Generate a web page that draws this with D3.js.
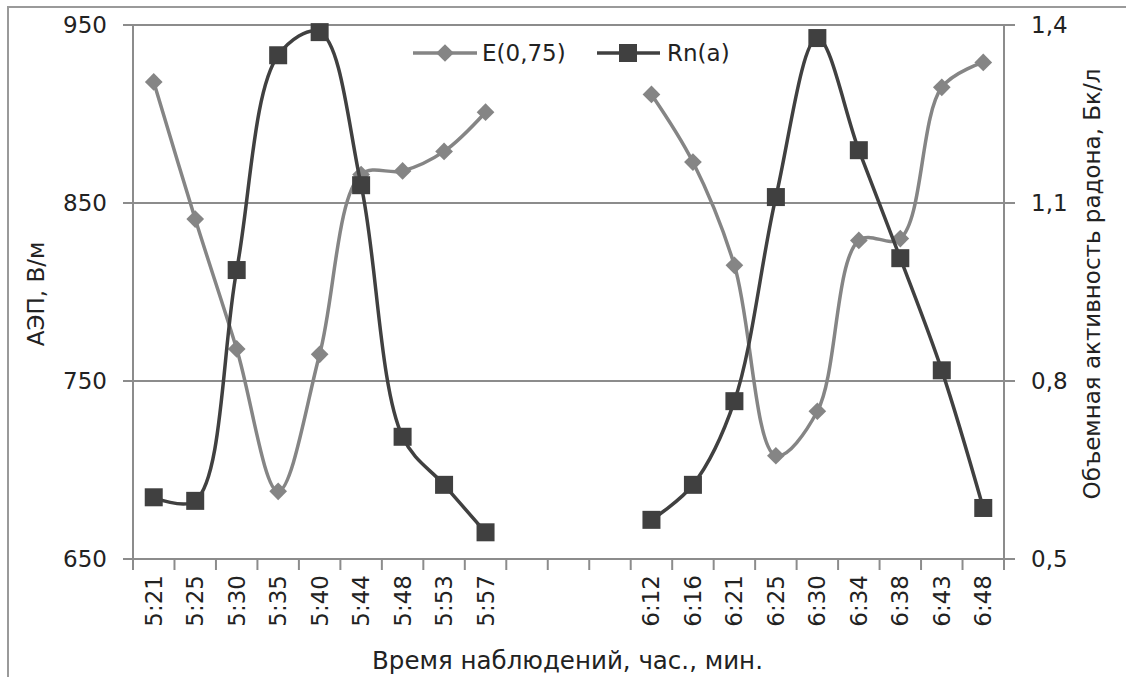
<!DOCTYPE html>
<html>
<head>
<meta charset="utf-8">
<script src="https://cdn.jsdelivr.net/npm/d3@7"></script>
<style>
  body { margin: 0; background: #fff; }
  text { font-family: "DejaVu Sans", sans-serif; fill: #222; }
</style>
</head>
<body>
<svg id="chart" width="1126" height="677"></svg>
<script>
// time labels (three empty slots make the gap between the two sessions)
const times = ["5:21","5:25","5:30","5:35","5:40","5:44","5:48","5:53","5:57","","","",
               "6:12","6:16","6:21","6:25","6:30","6:34","6:38","6:43","6:48"];
// E(0,75), В/м  (left axis)
const eField = [918, 841, 768, 688, 765, 866, 868, 879, 901, null, null, null,
                911, 873, 815, 708, 733, 829, 830, 915, 929];
// Rn(a), Бк/л  (right axis)
const radon = [0.604, 0.598, 0.987, 1.349, 1.388, 1.130, 0.706, 0.625, 0.545, null, null, null,
               0.566, 0.625, 0.766, 1.110, 1.378, 1.189, 1.007, 0.818, 0.586];
const leftTicks = [650, 750, 850, 950];
const rightTicks = [0.5, 0.8, 1.1, 1.4];

(function() {
  const svg = d3.select("#chart");
  const left = 133, right = 1004, top = 25, bottom = 559;
  const fs = 23;
  const axisCol = "#8c8c8c";
  const eCol = "#858585", rnCol = "#404040";

  // outer frame (only left and top edges visible)
  svg.append("path")
    .attr("d", "M8,677V7H1126")
    .attr("fill", "none")
    .attr("stroke", "#9a9a9a")
    .attr("stroke-width", 2);

  const x = d3.scaleBand().domain(d3.range(times.length)).range([left, right]).padding(0);
  const yL = d3.scaleLinear().domain([650, 950]).range([bottom, top]);
  const yR = d3.scaleLinear().domain([0.5, 1.4]).range([bottom, top]);

  // gridlines (with ticks on both sides)
  svg.append("g").selectAll("line")
    .data(leftTicks)
    .join("line")
    .attr("x1", left - 10).attr("x2", right + 11)
    .attr("y1", d => yL(d)).attr("y2", d => yL(d))
    .attr("stroke", axisCol).attr("stroke-width", 2);

  // vertical axis lines
  [left, right].forEach(xx => {
    svg.append("line")
      .attr("x1", xx).attr("x2", xx).attr("y1", top).attr("y2", bottom)
      .attr("stroke", axisCol).attr("stroke-width", 2);
  });

  // bottom category ticks
  svg.append("g").selectAll("line")
    .data(d3.range(times.length + 1))
    .join("line")
    .attr("x1", i => left + i * x.bandwidth())
    .attr("x2", i => left + i * x.bandwidth())
    .attr("y1", bottom).attr("y2", bottom + 11)
    .attr("stroke", axisCol).attr("stroke-width", 2);

  // tick labels
  svg.append("g").selectAll("text")
    .data(leftTicks)
    .join("text")
    .attr("x", left - 26).attr("y", d => yL(d))
    .attr("dy", "0.36em")
    .attr("text-anchor", "end")
    .attr("font-size", fs)
    .text(d => d);

  svg.append("g").selectAll("text")
    .data(rightTicks)
    .join("text")
    .attr("x", right + 27).attr("y", d => yR(d))
    .attr("dy", "0.36em")
    .attr("font-size", fs)
    .text(d => d3.format(".1f")(d).replace(".", ","));

  svg.append("g").selectAll("text")
    .data(d3.range(times.length))
    .join("text")
    .attr("transform", i => `translate(${x(i) + x.bandwidth() / 2 + 8},${bottom + 16}) rotate(-90)`)
    .attr("text-anchor", "end")
    .attr("font-size", fs)
    .text(i => times[i]);

  // axis titles
  svg.append("text")
    .attr("x", (left + right) / 2 - 1).attr("y", 669)
    .attr("text-anchor", "middle")
    .attr("font-size", 24.5)
    .text("Время наблюдений, час., мин.");

  svg.append("text")
    .attr("transform", `translate(44,${(top + bottom) / 2 + 2}) rotate(-90)`)
    .attr("text-anchor", "middle")
    .attr("font-size", fs)
    .text("АЭП, В/м");

  svg.append("text")
    .attr("transform", `translate(1100,${(top + bottom) / 2 - 8}) rotate(-90)`)
    .attr("text-anchor", "middle")
    .attr("font-size", fs)
    .text("Объемная активность радона, Бк/л");

  const cx = i => x(i) + x.bandwidth() / 2;
  const diamond = d3.symbol().type(d3.symbolDiamond2).size(200);
  const curve = d3.curveCatmullRom.alpha(0.5);

  // E(0,75)
  const lineE = d3.line()
    .defined(d => d != null)
    .x((d, i) => cx(i))
    .y(d => yL(d))
    .curve(curve);
  svg.append("path")
    .attr("d", lineE(eField))
    .attr("fill", "none").attr("stroke", eCol).attr("stroke-width", 3.5);
  svg.append("g").selectAll("path")
    .data(eField.map((v, i) => ({v, i})).filter(d => d.v != null))
    .join("path")
    .attr("transform", d => `translate(${cx(d.i)},${yL(d.v)})`)
    .attr("d", diamond)
    .attr("fill", eCol);

  // Rn(a)
  const lineR = d3.line()
    .defined(d => d != null)
    .x((d, i) => cx(i))
    .y(d => yR(d))
    .curve(curve);
  svg.append("path")
    .attr("d", lineR(radon))
    .attr("fill", "none").attr("stroke", rnCol).attr("stroke-width", 3.5);
  svg.append("g").selectAll("rect")
    .data(radon.map((v, i) => ({v, i})).filter(d => d.v != null))
    .join("rect")
    .attr("x", d => cx(d.i) - 9).attr("y", d => yR(d.v) - 9)
    .attr("width", 18).attr("height", 18)
    .attr("fill", rnCol);

  // legend
  const leg = svg.append("g");
  leg.append("line").attr("x1", 413).attr("x2", 477).attr("y1", 53).attr("y2", 53)
    .attr("stroke", eCol).attr("stroke-width", 3.5);
  leg.append("path").attr("transform", "translate(445,53)").attr("d", diamond).attr("fill", eCol);
  leg.append("text").attr("x", 482).attr("y", 53).attr("dy", "0.36em").attr("font-size", fs).text("E(0,75)");
  leg.append("line").attr("x1", 597).attr("x2", 660).attr("y1", 53).attr("y2", 53)
    .attr("stroke", rnCol).attr("stroke-width", 3.5);
  leg.append("rect").attr("x", 619).attr("y", 44).attr("width", 18).attr("height", 18).attr("fill", rnCol);
  leg.append("text").attr("x", 667).attr("y", 53).attr("dy", "0.36em").attr("font-size", fs).text("Rn(a)");
})();
</script>
</body>
</html>
